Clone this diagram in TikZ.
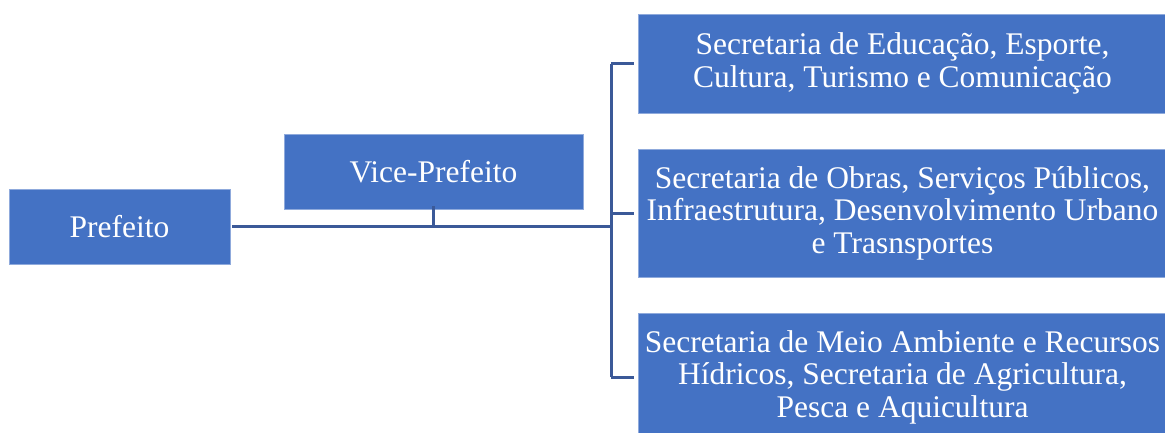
\documentclass[tikz,border=0pt]{standalone}
\usepackage{fontspec}
\setmainfont{Liberation Serif}
\definecolor{boxfill}{RGB}{68,114,196}
\definecolor{boxline}{RGB}{143,170,220}
\definecolor{conn}{RGB}{59,89,152}
\begin{document}
\begin{tikzpicture}[x=1pt,y=-1pt,
  orgbox/.style={rectangle, fill=boxfill, draw=boxline, line width=0.8pt, text=white,
    align=center, inner sep=0pt, font=\fontsize{31.5}{32.5}\selectfont},
  link/.style={draw=conn, line width=3pt}]
\useasboundingbox (0,0) rectangle (1165,432);
\node[orgbox, minimum width=221, minimum height=75] (pref) at (119.5,226.5) {Prefeito};
\node[orgbox, minimum width=299, minimum height=75] (vice) at (433.5,171.5) {Vice-Prefeito};
\node[orgbox, minimum width=529, minimum height=99] (s1) at (902.5,63.5)
  {Secretaria de Educação, Esporte,\\Cultura, Turismo e Comunicação};
\node[orgbox, minimum width=529, minimum height=128] (s2) at (902.5,213)
  {Secretaria de Obras, Serviços Públicos,\\Infraestrutura, Desenvolvimento Urbano\\e Trasnsportes};
\node[orgbox, minimum width=529, minimum height=128] (s3) at (902.5,377)
  {Secretaria de Meio Ambiente e Recursos\\Hídricos, Secretaria de Agricultura,\\Pesca e Aquicultura};
\coordinate (hub) at (611,226);
\coordinate (tick) at (433,226);
\coordinate (top) at (611,63.5);
\coordinate (mid) at (611,213);
\coordinate (bot) at (611,377);
\draw[link] ([xshift=2]pref.east |- hub) -- (hub);
\draw[link] (tick) -- ([yshift=3]tick |- vice.south);
\draw[link] (top) -- (bot);
\draw[link] (top) -- ([xshift=-4]s1.west);
\draw[link] (mid) -- ([xshift=-4]s2.west);
\draw[link] (bot) -- ([xshift=-4]s3.west);
\end{tikzpicture}
\end{document}
